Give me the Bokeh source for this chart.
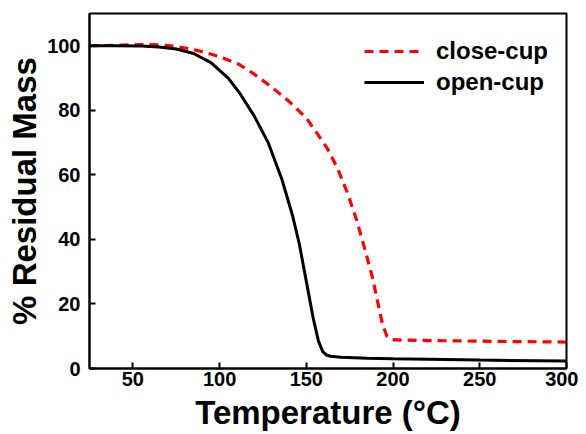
from bokeh.plotting import figure
from bokeh.embed import file_html
from bokeh.resources import INLINE
from bokeh.models import Legend, LegendItem

# ---- data ----
open_T = [25, 40, 55, 65, 75, 85, 95, 105, 112, 120, 128, 136, 142, 146, 150,
          154, 157, 159.5, 161.5, 164, 170, 185, 200, 250, 300]
open_M = [100, 100, 99.9, 99.6, 99.0, 97.6, 94.8, 90.0, 85.0, 78.2, 70.0, 58.5,
          47.5, 38.5, 27.0, 15.5, 8.5, 5.2, 4.2, 3.8, 3.5, 3.2, 3.0, 2.6, 2.3]

close_T = [25, 45, 55, 65, 75, 85, 92, 100, 111, 120, 130, 140, 150, 156, 162,
           168, 174, 179, 184, 188, 191, 194, 196.5, 199, 205, 230, 260, 300]
close_M = [100, 100.2, 100.4, 100.3, 99.8, 98.8, 97.9, 96.6, 94.3, 91.2, 87.2,
           82.8, 77.6, 73.0, 68.3, 62.0, 54.0, 46.0, 36.5, 28.5, 21.0, 13.5,
           10.0, 9.0, 8.8, 8.6, 8.4, 8.2]

x_ticks = [50, 100, 150, 200, 250, 300]
y_ticks = [0, 20, 40, 60, 80, 100]

FONT = "Liberation Sans"

p = figure(x_range=(25, 300), y_range=(0, 110),
           frame_width=477, frame_height=355,
           min_border_left=89, min_border_right=12,
           min_border_top=13, min_border_bottom=66,
           output_backend="svg", toolbar_location=None)

p.background_fill_color = "white"
p.border_fill_color = "white"
p.outline_line_color = "black"
p.outline_line_width = 2
p.grid.visible = False

r_close = p.line(close_T, close_M, line_color="#ff0000", line_width=3.2,
                 line_dash="9 6")
r_open = p.line(open_T, open_M, line_color="black", line_width=3)

for ax in (p.xaxis[0], p.yaxis[0]):
    ax.axis_line_width = 2
    ax.axis_line_color = "black"
    ax.major_tick_line_width = 2
    ax.major_tick_line_color = "black"
    ax.major_tick_in = 6
    ax.major_tick_out = 0
    ax.minor_tick_line_color = None
    ax.major_label_text_font = FONT
    ax.major_label_text_font_style = "bold"
    ax.major_label_text_font_size = "20px"
    ax.major_label_text_color = "black"
    ax.axis_label_text_font = FONT
    ax.axis_label_text_font_style = "bold"
    ax.axis_label_text_font_size = "33px"
    ax.axis_label_text_color = "black"

p.xaxis.ticker = x_ticks
p.yaxis.ticker = y_ticks
p.xaxis.axis_label = "Temperature (\u00b0C)"
p.yaxis.axis_label = "% Residual Mass"
p.xaxis.major_label_standoff = 3
p.xaxis.axis_label_standoff = 5
p.yaxis.major_label_standoff = 9
p.yaxis.axis_label_standoff = 1

legend = Legend(items=[LegendItem(label="close-cup", renderers=[r_close]),
                       LegendItem(label="open-cup", renderers=[r_open])],
                location=(275, 271))
legend.border_line_color = None
legend.background_fill_alpha = 0
legend.label_text_font = FONT
legend.label_text_font_style = "bold"
legend.label_text_font_size = "24px"
legend.label_text_color = "black"
legend.glyph_width = 60
legend.glyph_height = 30
legend.label_height = 30
legend.label_standoff = 12
legend.spacing = 1
legend.margin = 0
legend.padding = 12
p.add_layout(legend)

open("out.html", "w").write(file_html(p, INLINE))
